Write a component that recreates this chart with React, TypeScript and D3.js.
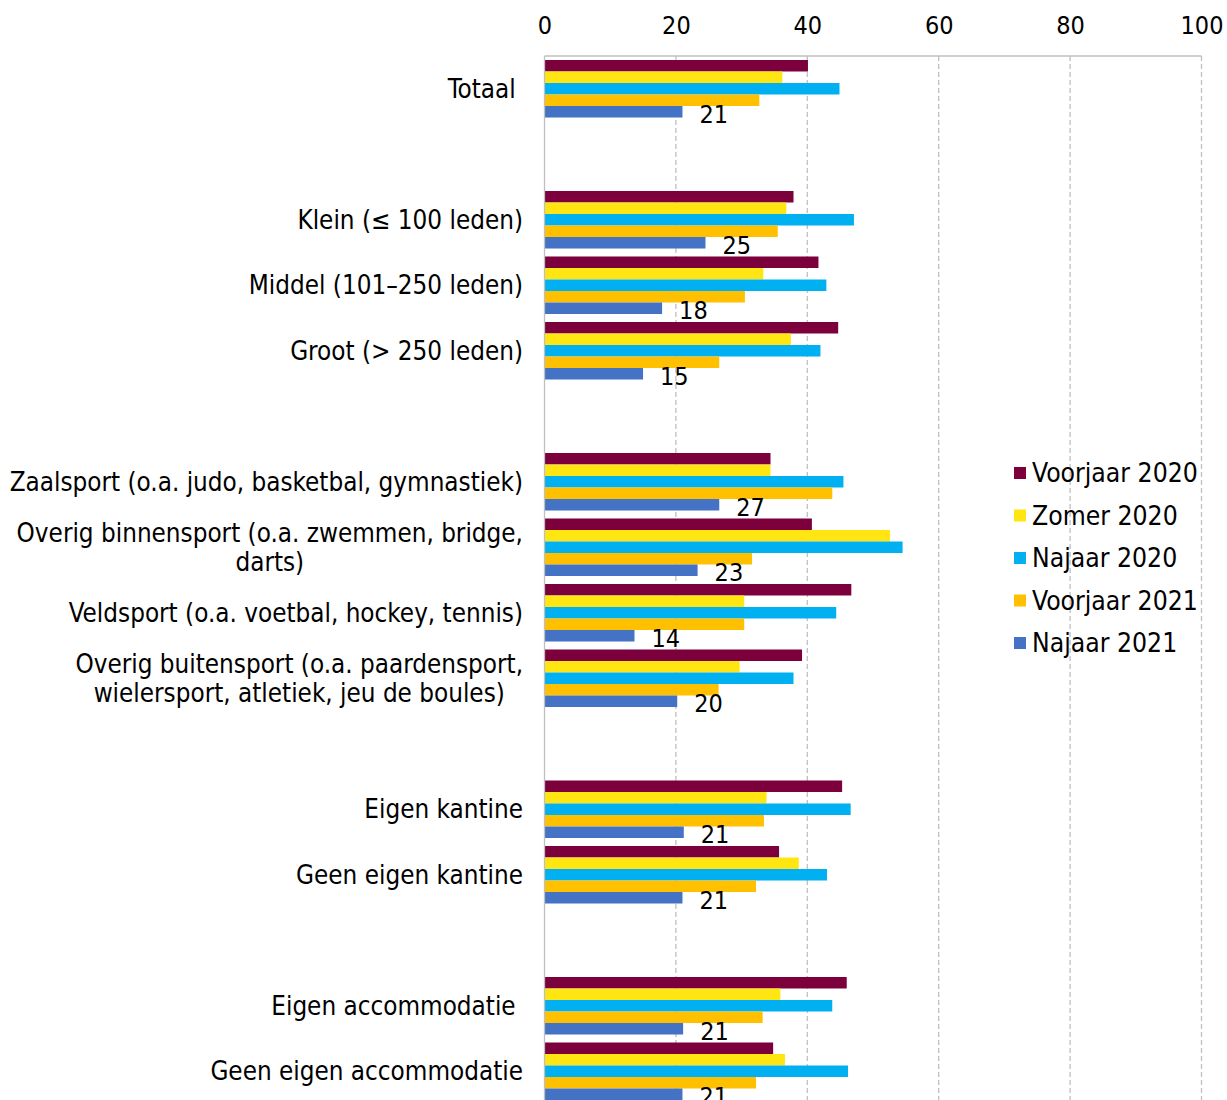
import { useEffect, useRef } from "react";
import * as d3 from "d3";

const SERIES = ["Voorjaar 2020", "Zomer 2020", "Najaar 2020", "Voorjaar 2021", "Najaar 2021"];
const COLORS = ["#7B003C", "#FFE512", "#00B0F0", "#FFC000", "#4472C4"];

// categories in blocks; an empty row separates the blocks
const CATEGORY_GROUPS = [
  ["Totaal "],
  ["Klein (≤ 100 leden)", "Middel (101–250 leden)", "Groot (> 250 leden)"],
  [
    "Zaalsport (o.a. judo, basketbal, gymnastiek)",
    "Overig binnensport (o.a. zwemmen, bridge,\ndarts)",
    "Veldsport (o.a. voetbal, hockey, tennis)",
    "Overig buitensport (o.a. paardensport,\nwielersport, atletiek, jeu de boules)",
  ],
  ["Eigen kantine", "Geen eigen kantine"],
  ["Eigen accommodatie ", "Geen eigen accommodatie"],
];
const CATEGORIES = CATEGORY_GROUPS.flat();

const VOORJAAR_2020 = [40.1, 37.9, 41.7, 44.7, 34.4, 40.7, 46.7, 39.2, 45.3, 35.7, 46.0, 34.8];
const ZOMER_2020 = [36.2, 36.8, 33.3, 37.5, 34.4, 52.6, 30.4, 29.7, 33.8, 38.7, 35.9, 36.6];
const NAJAAR_2020 = [44.9, 47.1, 42.9, 42.0, 45.5, 54.5, 44.4, 37.9, 46.6, 43.0, 43.8, 46.2];
const VOORJAAR_2021 = [32.7, 35.5, 30.5, 26.6, 43.8, 31.6, 30.4, 26.5, 33.4, 32.2, 33.2, 32.2];
const NAJAAR_2021 = [21.0, 24.5, 17.9, 15.0, 26.6, 23.3, 13.7, 20.2, 21.2, 21.0, 21.1, 21.0];
const VALUES = [VOORJAAR_2020, ZOMER_2020, NAJAAR_2020, VOORJAAR_2021, NAJAAR_2021];

const X_TICKS = [0, 20, 40, 60, 80, 100];

const FONT = "'DejaVu Sans Condensed', 'DejaVu Sans', sans-serif";
const W = 1227, H = 1100;

export default function App() {
  const svgRef = useRef<SVGSVGElement>(null);

  useEffect(() => {
    if (!svgRef.current) return;
    const svg = d3.select(svgRef.current);
    svg.selectAll("*").remove();

    // row slots incl. spacer rows between blocks
    const slots: string[] = [];
    CATEGORY_GROUPS.forEach((g, gi) => {
      if (gi > 0) slots.push(`__gap${gi}`);
      g.forEach((c) => slots.push(c));
    });

    const top = 56;
    const x = d3.scaleLinear().domain([0, 100]).range([544.5, 1201.5]);
    const y = d3.scaleBand<string>()
      .domain(slots)
      .range([top, 1104])
      .paddingInner(0.122)
      .paddingOuter(0.061);
    const inner = d3.scaleBand<string>().domain(SERIES).range([0, y.bandwidth()]);

    // --- grid ---
    svg.append("g")
      .selectAll("line")
      .data(X_TICKS.filter((t) => t > 0))
      .join("line")
      .attr("x1", (d) => x(d)).attr("x2", (d) => x(d))
      .attr("y1", top).attr("y2", H)
      .attr("stroke", "#BFBFBF").attr("stroke-width", 1.3)
      .attr("stroke-dasharray", "5,3");

    svg.append("line")
      .attr("x1", x(0)).attr("x2", x(100)).attr("y1", top).attr("y2", top)
      .attr("stroke", "#BFBFBF").attr("stroke-width", 1.3);

    // --- tick labels ---
    const xAxis = svg.append("g")
      .attr("transform", `translate(0,${top - 22})`)
      .call(d3.axisTop(x).tickValues(X_TICKS).tickSize(0).tickPadding(0));
    xAxis.select(".domain").remove();
    xAxis.selectAll("text")
      .attr("fill", "#000").attr("font-size", "25px").attr("font-family", FONT)
      .attr("dy", 0);

    // --- bars ---
    const rows = svg.append("g")
      .selectAll("g")
      .data(CATEGORIES)
      .join("g")
      .attr("transform", (c) => `translate(0,${y(c)})`);

    rows.selectAll("rect")
      .data((_, ci) => SERIES.map((s, si) => ({ s, si, v: VALUES[si][ci] })))
      .join("rect")
      .attr("x", x(0))
      .attr("y", (d) => inner(d.s)!)
      .attr("width", (d) => x(d.v) - x(0))
      .attr("height", inner.bandwidth())
      .attr("fill", (d) => COLORS[d.si]);

    // data labels for last series
    rows.append("text")
      .attr("x", (_, ci) => x(NAJAAR_2021[ci]) + 17)
      .attr("y", inner("Najaar 2021")! + inner.bandwidth() + 5.5)
      .attr("font-size", "25px").attr("font-family", FONT).attr("fill", "#000")
      .text((_, ci) => Math.round(NAJAAR_2021[ci]).toString());

    // category axis line
    svg.append("line")
      .attr("x1", x(0)).attr("x2", x(0)).attr("y1", top).attr("y2", H)
      .attr("stroke", "#BFBFBF").attr("stroke-width", 1.3);

    // --- category labels ---
    const labelRight = 523;
    const lineH = 29;
    CATEGORIES.forEach((c) => {
      const lines = c.split("\n");
      const cy = y(c)! + y.bandwidth() / 2;
      const g = svg.append("g");
      const texts = lines.map((ln, i) =>
        g.append("text")
          .attr("font-size", "25.8px").attr("font-family", FONT).attr("fill", "#000")
          .style("white-space", "pre")
          .attr("y", cy + 9 + (i - (lines.length - 1) / 2) * lineH)
          .text(ln)
      );
      if (lines.length === 1) {
        texts[0].attr("x", labelRight).attr("text-anchor", "end");
      } else {
        const maxW = d3.max(texts, (t) => (t.node() as SVGTextElement).getComputedTextLength()) ?? 0;
        texts.forEach((t) => t.attr("x", labelRight - maxW / 2).attr("text-anchor", "middle"));
      }
    });

    // --- legend ---
    const legend = svg.append("g").attr("transform", "translate(1014,473)");
    const li = legend.selectAll("g").data(SERIES).join("g")
      .attr("transform", (_, i) => `translate(0,${i * 42.5})`);
    li.append("rect").attr("x", 0).attr("y", -6).attr("width", 12).attr("height", 12)
      .attr("fill", (_, i) => COLORS[i]);
    li.append("text").attr("x", 18).attr("y", 9)
      .attr("font-size", "26.3px").attr("font-family", FONT).attr("fill", "#000")
      .text((d) => d);
  }, []);

  return (
    <div style={{ position: "absolute", left: 0, top: 0, width: W, height: H, background: "#fff", overflow: "hidden" }}>
      <svg ref={svgRef} width={W} height={H} viewBox={`0 0 ${W} ${H}`} />
    </div>
  );
}
